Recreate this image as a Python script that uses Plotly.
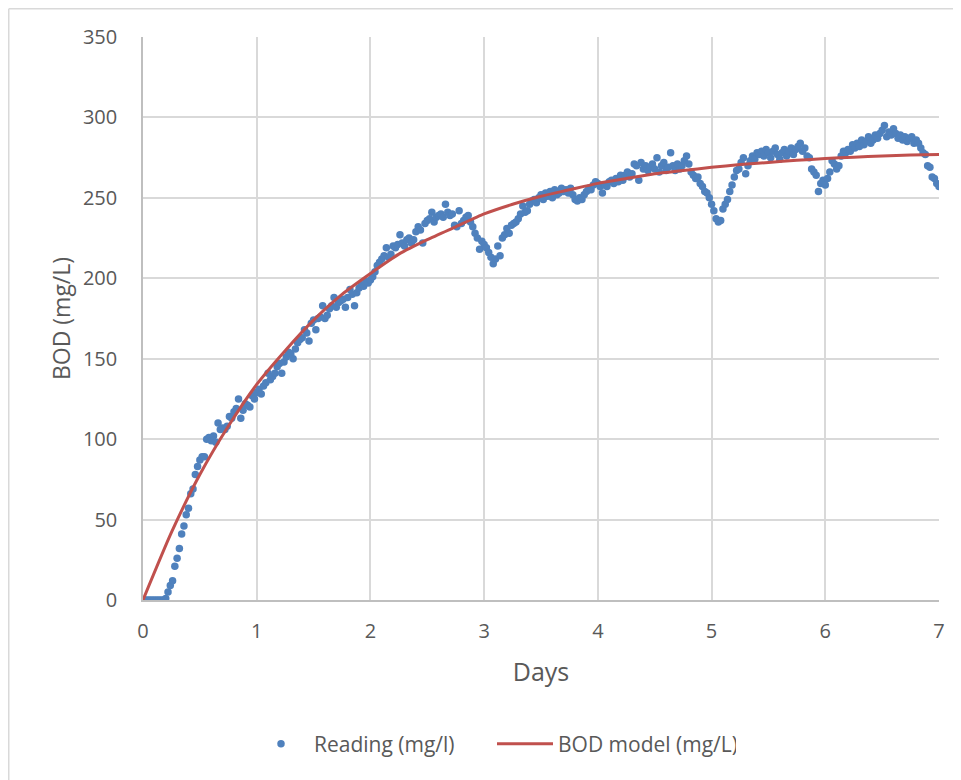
import plotly.graph_objects as go

# Sampling interval of the readings (days)
STEP = 0.02
reading_mg_l = [
    0, 0, 0, 0, 0, 0, 0, 0, 0, 0, 1,
    5, 9, 12, 21, 26, 32, 41, 46, 53, 57,
    66, 69, 78, 83, 87, 89, 89, 100, 101, 99,
    102, 98, 110, 106, 107, 106, 108, 114, 113, 117,
    119, 125, 113, 118, 122, 121, 120, 127, 125, 129,
    131, 128, 133, 135, 141, 137, 139, 141, 145, 147,
    141, 148, 151, 154, 153, 150, 156, 160, 162, 163,
    168, 166, 161, 172, 174, 168, 175, 176, 183, 175,
    177, 181, 183, 188, 182, 185, 186, 187, 182, 188,
    193, 190, 183, 191, 194, 196, 195, 198, 197, 199,
    201, 204, 208, 210, 212, 214, 219, 213, 215, 220,
    219, 221, 227, 222, 220, 224, 225, 222, 224, 229,
    232, 230, 222, 234, 236, 237, 241, 235, 238, 239,
    240, 238, 246, 241, 239, 240, 233, 232, 242, 234,
    236, 238, 239, 235, 232, 228, 225, 218, 223, 221,
    219, 216, 213, 209, 212, 220, 214, 225, 227, 231,
    228, 233, 234, 235, 237, 240, 245, 241, 242, 246,
    248, 249, 247, 250, 252, 249, 253, 251, 254, 250,
    255, 252, 253, 256, 254, 255, 253, 256, 252, 249,
    248, 250, 249, 252, 254, 256, 255, 258, 260, 259,
    257, 253, 258, 257, 260, 261, 259, 262, 260, 264,
    261, 264, 266, 263, 265, 271, 270, 261, 272, 268,
    270, 267, 269, 271, 268, 275, 266, 270, 272, 267,
    269, 278, 270, 267, 271, 268, 270, 273, 276, 271,
    266, 264, 262, 263, 259, 257, 254, 253, 250, 246,
    242, 237, 235, 236, 243, 246, 249, 254, 258, 263,
    267, 268, 272, 275, 265, 270, 273, 276, 274, 278,
    277, 279, 276, 280, 278, 275, 279, 281, 277, 274,
    278, 280, 276, 279, 281, 277, 280, 282, 284, 279,
    281, 276, 275, 268, 266, 264, 254, 259, 261, 258,
    262, 266, 273, 271, 268, 270, 276, 279, 278, 280,
    279, 283, 281, 284, 282, 286, 283, 285, 288, 284,
    286, 289, 287, 290, 292, 295, 288, 291, 289, 293,
    290, 287, 289, 286, 288, 285, 287, 288, 284, 286,
    284, 281, 278, 277, 270, 269, 263, 262, 259, 257,
]
reading_days = [round(i * STEP, 2) for i in range(len(reading_mg_l))]

model_days = [0, 0.25, 0.5, 0.75, 1, 1.25, 1.5, 1.75, 2, 2.25, 2.5, 2.75, 3,
              3.25, 3.5, 3.75, 4, 4.25, 4.5, 4.75, 5, 5.25, 5.5, 5.75, 6,
              6.25, 6.5, 6.75, 7]
model_mg_l = [0, 42, 78, 108, 134, 155, 174, 190, 203, 215, 224, 232, 240,
              246, 251, 255, 259, 262, 265, 267, 269, 270.7, 272, 273.4, 274.4,
              275.3, 276, 276.6, 277]

x_ticks = [0, 1, 2, 3, 4, 5, 6, 7]
y_ticks = [0, 50, 100, 150, 200, 250, 300, 350]

FONT = "Open Sans, Lato, sans-serif"
TXT = "#595959"

# figure is placed at (8, 8) on the page by the default body margin
W, H = 953, 772
L, R, T, B = 135, 22, 29, 180
PW, PH = W - L - R, H - T - B

fig = go.Figure()
fig.add_trace(go.Scatter(
    x=reading_days, y=reading_mg_l, mode="markers", name="Reading (mg/l)",
    marker=dict(color="#4f81bd", size=7.5, line=dict(width=0)),
))
fig.add_trace(go.Scatter(
    x=model_days, y=model_mg_l, mode="lines", name="BOD model (mg/L)",
    line=dict(color="#c0504d", width=3, shape="spline", smoothing=0.6),
))

# outer chart border (light grey), left and top edges
bx0 = (0.75 - L) / PW
by1 = (PH + T - 0.75) / PH
fig.add_shape(type="line", xref="paper", yref="paper", x0=bx0, x1=bx0,
              y0=-0.5, y1=by1, line=dict(color="#d9d9d9", width=1.5))
fig.add_shape(type="line", xref="paper", yref="paper", x0=bx0, x1=1.2,
              y0=by1, y1=by1, line=dict(color="#d9d9d9", width=1.5))

fig.update_layout(
    width=W, height=H,
    margin=dict(l=L, r=R, t=T, b=B),
    paper_bgcolor="white", plot_bgcolor="white",
    font=dict(family=FONT, color=TXT, size=20),
    showlegend=True,
    legend=dict(orientation="h", x=(240 - L) / PW, xanchor="left",
                y=(PH + T - 736) / PH, yanchor="middle",
                font=dict(size=21, color=TXT), tracegroupgap=0,
                itemwidth=56, entrywidth=173, entrywidthmode="pixels"),
    xaxis=dict(
        range=[0, 7], tickvals=x_ticks, ticktext=[str(v) for v in x_ticks],
        showgrid=True, gridcolor="#d9d9d9", gridwidth=1.5,
        showline=True, linecolor="#bfbfbf", linewidth=1.5,
        zeroline=False, ticks="", ticklabelstandoff=12,
        tickfont=dict(size=20, color=TXT),
        title=dict(text="Days", font=dict(size=25, color=TXT), standoff=21),
    ),
    yaxis=dict(
        range=[0, 350], tickvals=y_ticks, ticktext=[str(v) for v in y_ticks],
        showgrid=True, gridcolor="#d9d9d9", gridwidth=1.5,
        showline=True, linecolor="#bfbfbf", linewidth=1.5,
        zeroline=False, ticks="", ticklabelstandoff=20,
        tickfont=dict(size=20, color=TXT),
        title=dict(text="BOD (mg/L)", font=dict(size=23, color=TXT), standoff=6),
    ),
)

fig.write_html("out.html")
